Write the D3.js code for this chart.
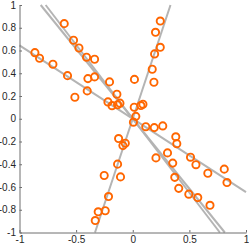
<!DOCTYPE html>
<html>
<head>
<meta charset="utf-8">
<script src="https://cdn.jsdelivr.net/npm/d3@7"></script>
<style>
    body { margin: 0; background: #fff; }
    svg { display: block; }
    .tick text { font-family: "Liberation Sans", Arial, sans-serif; font-size: 10px; fill: #262626; }
</style>
</head>
<body>
<div id="chart"></div>
<script>
// scatter points
const xValues = [
    -0.605, -0.523, -0.475, -0.408, -0.337, -0.864, -0.823, -0.705, -0.576, -0.396,
    -0.337, -0.205, -0.511, -0.402, -0.140, -0.219, -0.183, -0.134, -0.113, 0.243,
    0.201, 0.243, 0.193, 0.172, 0.015, 0.187, 0.090, 0.072, 0.013, 0.027,
    0.006, 0.115, 0.190, 0.265, -0.125, -0.066, -0.087, -0.134, -0.252, -0.108,
    -0.214, -0.243, -0.305, -0.331, 0.380, 0.389, 0.205, 0.307, 0.353, 0.510,
    0.558, 0.663, 0.808, 0.832, 0.371, 0.406, 0.495, 0.574, 0.682
];
const yValues = [
    0.836, 0.690, 0.622, 0.541, 0.523, 0.581, 0.532, 0.479, 0.379, 0.353,
    0.368, 0.324, 0.189, 0.245, 0.216, 0.148, 0.115, 0.123, 0.137, 0.859,
    0.760, 0.628, 0.570, 0.435, 0.346, 0.321, 0.128, 0.116, 0.101, 0.021,
    -0.030, -0.070, -0.078, -0.063, -0.174, -0.215, -0.236, -0.399, -0.499, -0.511,
    -0.684, -0.809, -0.818, -0.895, -0.159, -0.219, -0.344, -0.300, -0.390, -0.338,
    -0.404, -0.479, -0.443, -0.561, -0.515, -0.612, -0.663, -0.693, -0.761
];
// fitted lines through the origin, y = m * x
const lineSlopes = [3.0, -1.23, -1.30, -0.645];

const xTicks = [-1, -0.5, 0, 0.5, 1];
const yTicks = [-1, -0.8, -0.6, -0.4, -0.2, 0, 0.2, 0.4, 0.6, 0.8, 1];

const width = 249, height = 246;
const margin = {top: 5, right: 3, bottom: 13.5, left: 19.5};

const svg = d3.select("#chart")
    .append("svg")
    .attr("width", width)
    .attr("height", height)

const x = d3.scaleLinear().domain([-1, 1]).range([margin.left, width - margin.right]);
const y = d3.scaleLinear().domain([-1, 1]).range([height - margin.bottom, margin.top]);

// lines, clipped to the [-1, 1] box
const lineEnds = m => {
    const x0 = Math.abs(m) > 1 ? -1 / Math.abs(m) : -1;
    return [[x0, m * x0], [-x0, -m * x0]];
}

svg.append("g")
    .selectAll("path")
    .data(lineSlopes)
    .join("path")
    .attr("d", m => d3.line().x(d => x(d[0])).y(d => y(d[1]))(lineEnds(m)))
    .attr("fill", "none")
    .attr("stroke", "#b4b4b4")
    .attr("stroke-width", 2)

svg.append("g")
    .selectAll("circle")
    .data(d3.zip(xValues, yValues))
    .join("circle")
    .attr("cx", d => x(d[0]))
    .attr("cy", d => y(d[1]))
    .attr("r", 3.6)
    .attr("fill", "none")
    .attr("stroke", "#ff6600")
    .attr("stroke-width", 1.9)

const fmt = d => String(d);

svg.append("g")
    .attr("transform", `translate(0,${y(-1)})`)
    .call(d3.axisBottom(x).tickValues(xTicks).tickFormat(fmt).tickSizeInner(-2.5).tickSizeOuter(0).tickPadding(3))
    .call(g => g.select(".domain").attr("stroke", "#6e6e6e"))
    .call(g => g.selectAll(".tick line").attr("stroke", "#6e6e6e"))

svg.append("g")
    .attr("transform", `translate(${x(-1)},0)`)
    .call(d3.axisLeft(y).tickValues(yTicks).tickFormat(fmt).tickSizeInner(-2.5).tickSizeOuter(0).tickPadding(3.5))
    .call(g => g.select(".domain").attr("stroke", "#6e6e6e"))
    .call(g => g.selectAll(".tick line").attr("stroke", "#6e6e6e"))
</script>
</body>
</html>
